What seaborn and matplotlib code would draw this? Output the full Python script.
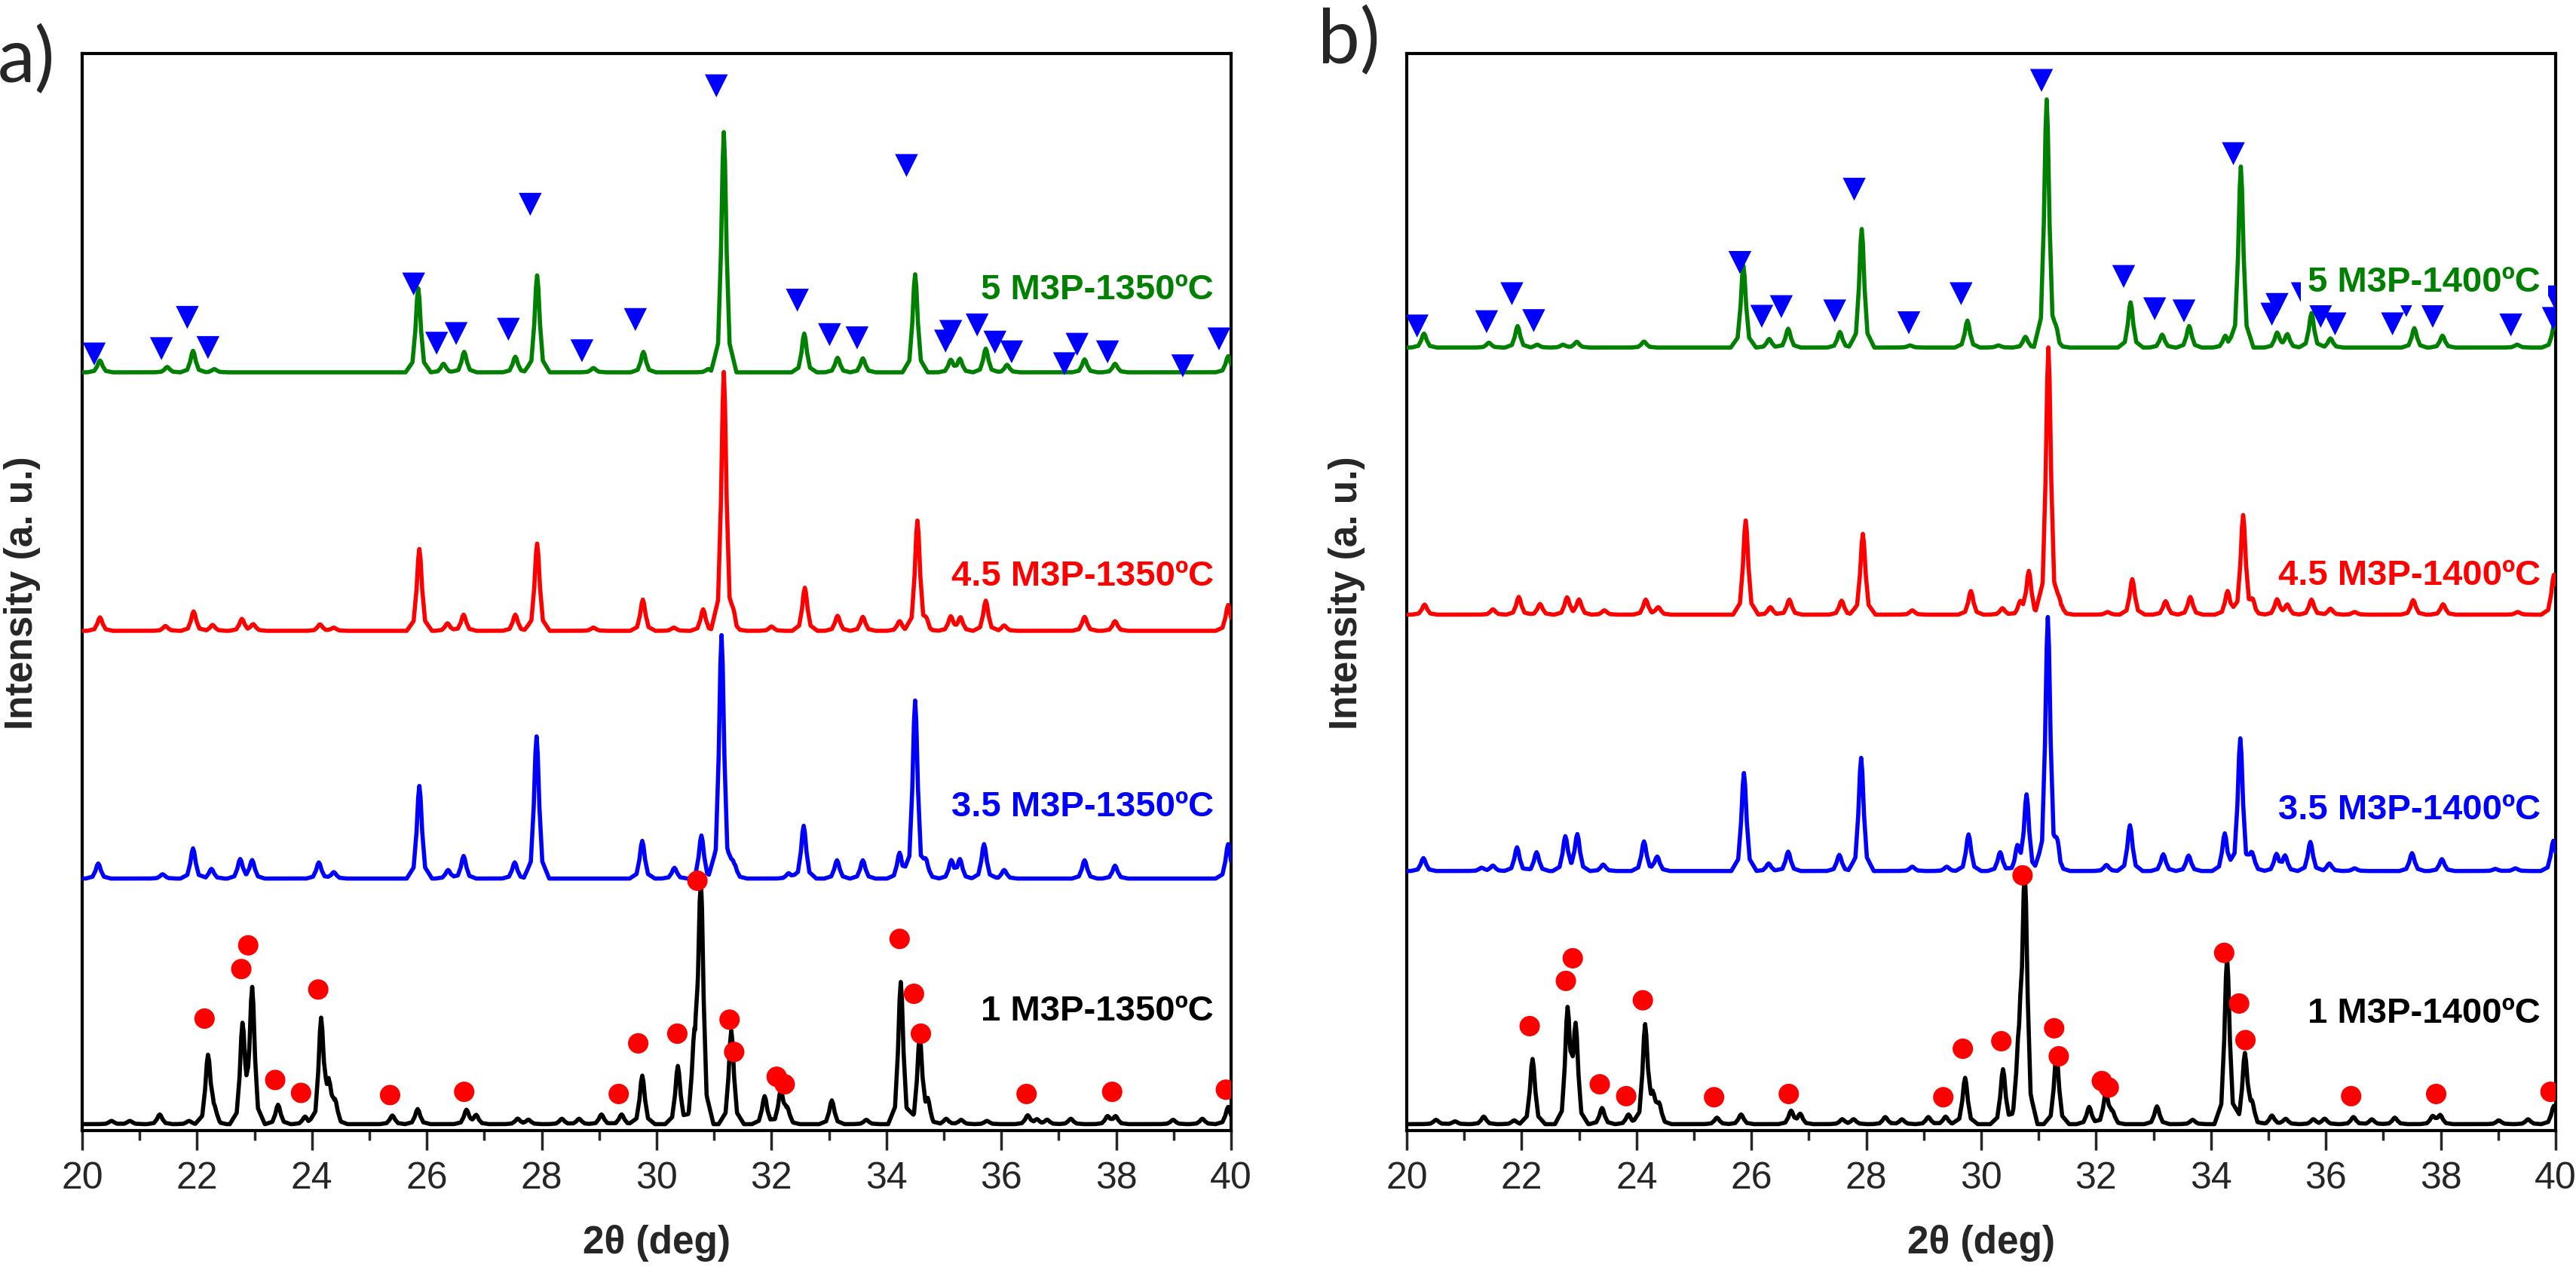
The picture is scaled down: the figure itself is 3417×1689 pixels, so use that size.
import numpy as np
import pandas as pd
import seaborn as sns
import matplotlib.pyplot as plt
from matplotlib.ticker import MultipleLocator

# ---------------- data ----------------
# peak position (2theta, deg) and peak height (a.u.) of every reflection

# panel a) 1350 C
a_black_pos = [20.51, 20.83, 21.35, 21.86, 22.19, 22.29, 22.79, 22.96, 23.41, 23.88, 24.16, 24.29, 24.40,
               25.40, 25.84, 26.69, 26.86, 27.58, 27.77, 28.35, 28.65, 29.04, 29.39, 29.75, 30.37, 30.66,
               30.77, 31.30, 31.88, 32.16, 32.27, 33.05, 33.65, 34.25, 34.58, 34.72, 35.04, 35.30, 35.75,
               36.46, 36.62, 36.80, 37.21, 37.85, 37.99, 38.99, 39.50, 39.95]
a_black_h = [0.3, 0.3, 0.9, 0.3, 6.3, 1.2, 8.8, 12.3, 1.8, 0.7, 9.6, 3.2, 2.0,
             0.8, 1.4, 1.3, 0.8, 0.5, 0.4, 0.5, 0.5, 0.9, 0.9, 4.5, 5.4, 6.5,
             22.1, 8.7, 2.6, 3.0, 1.3, 2.2, 0.4, 13.2, 8.0, 1.8, 0.5, 0.4, 0.3,
             0.8, 0.4, 0.4, 0.5, 0.7, 0.7, 0.4, 0.5, 1.6]

a_blue_pos = [20.28, 21.40, 21.93, 22.25, 22.75, 22.96, 24.12, 24.38, 25.87, 26.37, 26.64, 27.53, 27.91,
              29.75, 30.31, 30.78, 31.13, 31.35, 32.30, 32.56, 33.14, 33.59, 34.23, 34.50, 34.70, 35.13,
              35.28, 35.70, 36.05, 37.45, 37.98, 39.95]
a_blue_h = [1.4, 0.4, 2.8, 0.9, 1.8, 1.7, 1.5, 0.6, 8.6, 0.8, 2.1, 1.5, 13.2,
            3.5, 1.0, 4.0, 22.6, 1.4, 0.5, 4.9, 1.7, 1.7, 2.4, 16.5, 1.4, 1.6,
            1.7, 3.2, 0.8, 1.7, 1.2, 3.2]

a_red_pos = [20.31, 21.45, 21.94, 22.27, 22.78, 22.98, 24.14, 24.38, 25.87, 26.36, 26.64, 27.54, 27.92,
             28.90, 29.76, 30.30, 30.81, 31.17, 31.35, 32.00, 32.58, 33.15, 33.59, 34.23, 34.54, 34.70,
             35.12, 35.29, 35.73, 36.05, 37.45, 37.98, 39.95]
a_red_h = [1.25, 0.45, 1.8, 0.55, 1.1, 0.6, 0.6, 0.3, 7.6, 0.7, 1.5, 1.5, 8.1,
           0.3, 2.9, 0.3, 2.0, 24.0, 0.8, 0.4, 4.0, 1.4, 1.3, 0.9, 10.2, 0.6,
           1.3, 1.2, 2.8, 0.5, 1.3, 0.9, 2.4]

a_green_pos = [20.31, 21.48, 21.93, 22.30, 25.85, 26.29, 26.65, 27.54, 27.92, 28.90, 29.77, 30.90, 31.17,
               32.57, 33.15, 33.59, 34.50, 35.12, 35.28, 35.73, 36.10, 37.45, 37.98, 39.95]
a_green_h = [1.1, 0.5, 2.0, 0.3, 7.8, 0.8, 1.9, 1.45, 9.0, 0.4, 1.9, 0.3, 22.3,
             3.6, 1.35, 1.3, 9.1, 1.1, 1.2, 2.2, 0.7, 1.2, 0.8, 1.5]

a_offsets = [0.6, 23.4, 46.4, 70.4]   # black, blue, red, green
a_labels = ["1 M3P-1350ºC", "3.5 M3P-1350ºC", "4.5 M3P-1350ºC", "5 M3P-1350ºC"]
a_label_y = [11.1, 30.1, 51.5, 78.1]

a_circle_x = [22.13, 22.77, 22.89, 23.36, 23.81, 24.11, 25.36, 26.65, 29.34, 29.68, 30.36, 30.71,
              31.27, 31.35, 32.09, 32.23, 34.23, 34.48, 34.60, 36.44, 37.93, 39.91]
a_circle_y = [10.4, 15.0, 17.2, 4.7, 3.5, 13.1, 3.3, 3.6, 3.4, 8.1, 9.0, 23.2,
              10.3, 7.3, 5.0, 4.3, 17.8, 12.7, 9.0, 3.4, 3.6, 3.8]

a_tri_x = [20.21, 21.38, 21.83, 22.19, 25.77, 26.17, 26.51, 27.42, 27.80, 28.70, 29.63, 31.04, 32.45,
           33.01, 33.49, 34.35, 35.03, 35.12, 35.58, 35.89, 36.18, 37.10, 37.32, 37.85, 39.16, 39.79]
a_tri_y = [72.1, 72.6, 75.5, 72.7, 78.6, 73.1, 74.0, 74.4, 86.0, 72.4, 75.3, 97.0, 77.1,
           73.9, 73.6, 89.6, 73.3, 74.2, 74.8, 73.2, 72.3, 71.2, 73.0, 72.3, 71.0, 73.5]

# panel b) 1400 C
b_black_pos = [20.51, 20.84, 21.34, 21.87, 22.19, 22.80, 22.94, 23.40, 23.86, 24.15, 24.28, 24.39,
               25.40, 25.82, 26.69, 26.85, 27.58, 27.78, 28.33, 28.62, 29.08, 29.38, 29.72, 30.38,
               30.66, 30.76, 31.31, 31.88, 32.17, 32.28, 33.06, 33.68, 34.28, 34.59, 34.71, 35.06,
               35.30, 35.78, 35.98, 36.48, 36.80, 37.20, 37.86, 37.99, 39.01, 39.52, 39.97]
b_black_h = [0.4, 0.26, 0.7, 0.35, 6.05, 10.2, 8.6, 1.5, 0.9, 9.1, 2.1, 1.8,
             0.6, 0.9, 1.2, 0.9, 0.45, 0.45, 0.66, 0.45, 0.66, 0.7, 4.3, 5.1,
             6.5, 22.6, 6.45, 1.6, 2.8, 1.0, 1.65, 0.4, 15.5, 6.45, 1.6, 0.8,
             0.5, 0.45, 0.5, 0.66, 0.45, 0.6, 0.7, 0.8, 0.35, 0.45, 1.7]

b_blue_pos = [20.29, 21.30, 21.50, 21.92, 22.26, 22.76, 22.97, 23.42, 24.13, 24.36, 25.87, 26.30, 26.64,
              27.53, 27.91, 28.80, 29.40, 29.78, 30.33, 30.63, 30.79, 31.16, 31.33, 32.18, 32.59, 33.17,
              33.61, 34.24, 34.51, 34.72, 35.14, 35.29, 35.73, 36.06, 36.50, 37.50, 38.02, 38.95, 39.30,
              39.96]
b_blue_h = [1.2, 0.3, 0.5, 2.2, 1.75, 3.2, 3.4, 0.6, 2.75, 1.35, 9.1, 0.7, 1.8,
            1.5, 10.5, 0.4, 0.4, 3.4, 1.75, 2.0, 7.0, 23.5, 1.7, 0.56, 4.25, 1.56,
            1.44, 3.5, 12.3, 1.6, 1.5, 1.35, 2.7, 0.7, 0.25, 1.66, 1.1, 0.2, 0.25,
            2.8]

b_red_pos = [20.31, 21.50, 21.95, 22.32, 22.79, 23.00, 23.44, 24.16, 24.38, 25.90, 26.33, 26.66, 27.57,
             27.94, 28.80, 29.82, 30.37, 30.68, 30.83, 31.17, 31.38, 32.20, 32.63, 33.21, 33.64, 34.29,
             34.56, 34.73, 35.15, 35.33, 35.75, 36.08, 36.50, 37.52, 38.04, 39.34, 39.97]
b_red_h = [0.94, 0.5, 1.65, 1.0, 1.6, 1.4, 0.4, 1.4, 0.7, 8.75, 0.7, 1.4, 1.3,
           7.5, 0.4, 2.2, 0.6, 1.0, 4.0, 24.8, 1.0, 0.25, 3.3, 1.25, 1.65, 2.2,
           9.2, 1.0, 1.4, 0.9, 1.4, 0.56, 0.25, 1.35, 0.97, 0.25, 3.7]

b_green_pos = [20.30, 21.43, 21.93, 22.27, 22.72, 22.96, 24.13, 25.86, 26.31, 26.64, 27.54, 27.92, 28.76,
               29.76, 30.30, 30.77, 31.14, 31.32, 32.60, 33.15, 33.62, 34.25, 34.52, 35.15, 35.33, 35.75,
               36.08, 37.54, 38.03, 39.33, 39.98]
b_green_h = [1.3, 0.45, 2.0, 0.27, 0.27, 0.54, 0.56, 7.6, 0.8, 1.75, 1.45, 11.0, 0.2,
             2.5, 0.2, 1.0, 23.0, 0.8, 4.2, 1.2, 2.0, 1.1, 16.8, 1.35, 1.2, 3.2,
             0.85, 1.8, 1.1, 0.27, 2.2]

b_offsets = [0.6, 24.1, 47.9, 72.7]
b_labels = ["1 M3P-1400ºC", "3.5 M3P-1400ºC", "4.5 M3P-1400ºC", "5 M3P-1400ºC"]
b_label_y = [10.9, 29.8, 51.6, 78.8]

b_circle_x = [22.14, 22.77, 22.89, 23.36, 23.82, 24.11, 25.35, 26.65, 29.34, 29.68, 30.35, 30.72,
              31.27, 31.35, 32.10, 32.22, 34.23, 34.49, 34.60, 36.44, 37.92, 39.91]
b_circle_y = [9.7, 13.9, 16.0, 4.3, 3.2, 12.1, 3.1, 3.4, 3.1, 7.6, 8.3, 23.7,
              9.5, 6.9, 4.6, 4.0, 16.5, 11.8, 8.4, 3.2, 3.4, 3.6]

b_tri_x = [20.18, 21.39, 21.83, 22.21, 25.80, 26.18, 26.52, 27.45, 27.79, 28.74, 29.65, 31.05, 32.48,
           33.02, 33.53, 34.39, 35.06, 35.15, 35.59, 35.91, 36.16, 37.16, 37.40, 37.86, 39.22, 39.96, 39.98]
b_tri_y = [74.7, 75.1, 77.7, 75.2, 80.6, 75.6, 76.5, 76.1, 87.4, 75.0, 77.7, 97.5, 79.3,
           76.3, 76.1, 90.7, 75.8, 76.7, 77.7, 75.6, 74.9, 74.9, 76.6, 75.6, 74.8, 75.4, 77.4]

colors = ["black", "#0000ff", "#ff0000", "#008000"]

# peak profile used to draw each reflection (offset in deg, fraction of height)
SHAPE_DX = [-0.22, -0.1, -0.05, -0.02, 0.0, 0.02, 0.05, 0.1, 0.22]
SHAPE_F = [0.0, 0.12, 0.5, 0.88, 1.0, 0.88, 0.5, 0.12, 0.0]

tt = np.linspace(20, 40, 4001)


def pattern(pos, h, base):
    y = np.full_like(tt, base)
    for p, hh in zip(pos, h):
        y += hh * np.interp(tt - p, SHAPE_DX, SHAPE_F)
    return y


sns.set_style("ticks")
plt.rcParams["font.family"] = ["Liberation Sans", "DejaVu Sans"]

fig = plt.figure(figsize=(34.17, 16.90), dpi=100)
ax_a = fig.add_axes([0.0319, 0.1118, 0.4460, 0.8456])
ax_b = fig.add_axes([0.5461, 0.1118, 0.4460, 0.8456])

panels = [
    (ax_a, [a_black_pos, a_blue_pos, a_red_pos, a_green_pos], [a_black_h, a_blue_h, a_red_h, a_green_h],
     a_offsets, a_labels, a_label_y, a_circle_x, a_circle_y, a_tri_x, a_tri_y, 39.70),
    (ax_b, [b_black_pos, b_blue_pos, b_red_pos, b_green_pos], [b_black_h, b_blue_h, b_red_h, b_green_h],
     b_offsets, b_labels, b_label_y, b_circle_x, b_circle_y, b_tri_x, b_tri_y, 39.74),
]

for ax, poss, hs, offs, labels, label_y, cx, cy, tx, ty, lx in panels:
    for i in range(4):
        y = pattern(poss[i], hs[i], offs[i])
        sns.lineplot(x=tt, y=y, ax=ax, color=colors[i], lw=4.0, estimator=None, sort=False, zorder=2 + i)
    sns.scatterplot(x=cx, y=cy, ax=ax, marker="o", s=380, color="#ff0000", edgecolor="none", zorder=8)
    sns.scatterplot(x=tx, y=ty, ax=ax, marker="v", s=480, color="#0000ff", edgecolor="none", zorder=8)
    for i in range(4):
        kw = {}
        if i == 3:
            kw["bbox"] = dict(boxstyle="square,pad=0.2", fc="white", ec="none")
        ax.text(lx, label_y[i], labels[i], color=colors[i], fontsize=34, fontweight="bold",
                ha="right", va="center", zorder=10, **kw)

    ax.set_xlim(20, 40)
    ax.set_ylim(0, 100)
    ax.set_yticks([])
    ax.xaxis.set_major_locator(MultipleLocator(2))
    ax.xaxis.set_minor_locator(MultipleLocator(1))
    ax.tick_params(axis="x", which="major", length=19, width=2.5, direction="out", labelsize=36, pad=10)
    ax.tick_params(axis="x", which="minor", length=9, width=2.5, direction="out")
    for sp in ax.spines.values():
        sp.set_linewidth(3.0)
        sp.set_color("black")
    ax.set_xlabel("2θ (deg)", fontsize=37, fontweight="bold")
    ax.set_ylabel("Intensity (a. u.)", fontsize=37, fontweight="bold")
    ax.xaxis.set_label_coords(0.5, -0.087)
    ax.yaxis.set_label_coords(-0.036, 0.5)

fig.text(-0.001, 0.9355, "a)", fontsize=72, family=["Lato", "DejaVu Sans"], ha="left", va="baseline")
fig.text(0.5116, 0.950, "b)", fontsize=72, family=["Lato", "DejaVu Sans"], ha="left", va="baseline")

fig.savefig("out.png", dpi=100)
